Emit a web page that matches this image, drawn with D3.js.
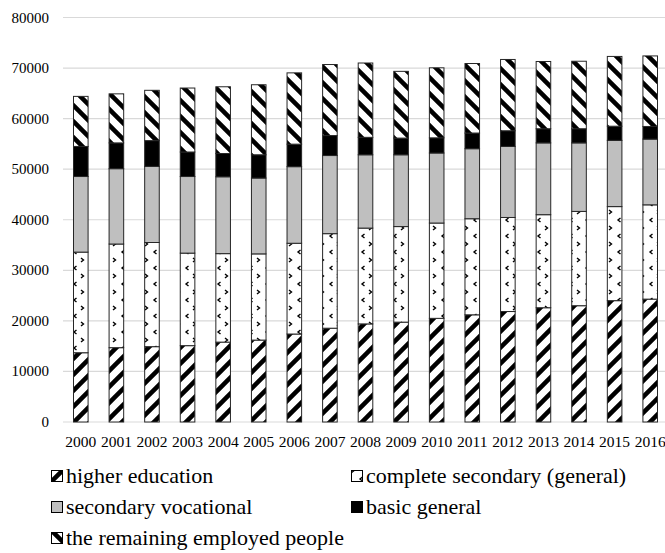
<!DOCTYPE html>
<html lang="en">
<head>
	<meta charset="UTF-8"/>
	<title>Employed population by education</title>
	<script src="https://d3js.org/d3.v7.min.js"></script>
	<style>
		body { margin: 0; background: #fff; }
		text { font-family: "Liberation Serif", "Times New Roman", serif; fill: #000; }
	</style>
</head>
<body>
<script>

	var w = 665;
	var h = 553;
	var serif = "'Liberation Serif', 'Times New Roman', serif";

	// data (thousand people)
	var years = ["2000","2001","2002","2003","2004","2005","2006","2007","2008",
	             "2009","2010","2011","2012","2013","2014","2015","2016"];
	var higherEducation   = [13700,14700,14900,15100,15800,16200,17400,18550,19400,19750,20500,21200,21850,22600,23000,24000,24300];
	var completeSecondary = [19900,20500,20600,18300,17500,17050,17950,18700,18950,18900,18850,19000,18600,18400,18650,18600,18650];
	var secondaryVocational = [14950,14900,15050,15150,15200,15000,15150,15450,14500,14200,13850,13850,14050,14200,13550,13100,13000];
	var basicGeneral      = [5950,5100,5100,4850,4600,4600,4450,3950,3450,3300,3000,3100,3100,2800,2800,2800,2500];
	var remaining         = [9900,9700,9950,12650,13200,13850,14100,14050,14700,13200,13850,13750,14100,13300,13350,13800,13950];
	var yTicks = [0,10000,20000,30000,40000,50000,60000,70000,80000];

	var seriesNames = ["higher education", "complete secondary (general)", "secondary vocational",
	                   "basic general", "the remaining employed people"];
	var seriesValues = [higherEducation, completeSecondary, secondaryVocational, basicGeneral, remaining];
	var fills = ["url(#upDiag)", "url(#dots)", "#bfbfbf", "#000", "url(#downDiag)"];

	// rows for d3.stack
	var table = years.map(function(y, i){
		var row = {year: y};
		seriesNames.forEach(function(n, k){ row[n] = seriesValues[k][i]; });
		return row;
	});
	var stacked = d3.stack().keys(seriesNames)(table);

	var xScale = d3.scaleBand()
					.domain(years)
					.range([63, 668])
					.paddingInner(0.59)
					.paddingOuter(0.295);

	var yScale = d3.scaleLinear()
					.domain([0, 80000])
					.range([422, 17.5]);

	var svg = d3.select("body")
		.append("svg")
		.attr("width", w)
		.attr("height", h);

	// fill patterns
	var defs = svg.append("defs");

	var up = defs.append("pattern")
		.attr("id", "upDiag")
		.attr("patternUnits", "userSpaceOnUse")
		.attr("width", 16).attr("height", 16);
	up.append("rect").attr("width", 16).attr("height", 16).attr("fill", "#fff");
	up.append("path")
		.attr("d", "M-4,4 L4,-4 M-4,20 L20,-4 M12,20 L20,12")
		.attr("stroke", "#000").attr("stroke-width", 4.5);

	var down = defs.append("pattern")
		.attr("id", "downDiag")
		.attr("patternUnits", "userSpaceOnUse")
		.attr("width", 16).attr("height", 16);
	down.append("rect").attr("width", 16).attr("height", 16).attr("fill", "#fff");
	down.append("path")
		.attr("d", "M-4,12 L4,20 M-4,-4 L20,20 M12,-4 L20,4")
		.attr("stroke", "#000").attr("stroke-width", 4.5);

	var dots = defs.append("pattern")
		.attr("id", "dots")
		.attr("patternUnits", "userSpaceOnUse")
		.attr("width", 16).attr("height", 16);
	dots.append("rect").attr("width", 16).attr("height", 16).attr("fill", "#fff");
	dots.append("path")
		.attr("d", "M1,2 L3.5,4 L1,6")
		.attr("fill", "none").attr("stroke", "#000").attr("stroke-width", 1.4);
	dots.append("path")
		.attr("d", "M12.5,10 L10,12 L12.5,14")
		.attr("fill", "none").attr("stroke", "#000").attr("stroke-width", 1.4);

	// gridlines
	svg.append("g")
		.selectAll("line")
		.data(yTicks)
		.enter()
		.append("line")
		.attr("x1", 63)
		.attr("x2", w)
		.attr("y1", function(d){ return yScale(d); })
		.attr("y2", function(d){ return yScale(d); })
		.attr("stroke", "#d9d9d9")
		.attr("stroke-width", 1.2);

	// y labels
	svg.append("g")
		.selectAll("text")
		.data(yTicks)
		.enter()
		.append("text")
		.attr("x", 49)
		.attr("y", function(d){ return yScale(d) + 5; })
		.attr("font-family", serif)
		.attr("font-size", 15)
		.style("text-anchor", "end")
		.text(function(d){ return d; });

	// stacked bars
	svg.append("g")
		.selectAll("g")
		.data(stacked)
		.enter()
		.append("g")
		.attr("fill", function(d, i){ return fills[i]; })
		.selectAll("rect")
		.data(function(d){ return d; })
		.enter()
		.append("rect")
		.attr("x", function(d){ return xScale(d.data.year); })
		.attr("y", function(d){ return yScale(d[1]); })
		.attr("width", xScale.bandwidth())
		.attr("height", function(d){ return yScale(d[0]) - yScale(d[1]); })
		.attr("stroke", "#262626")
		.attr("stroke-width", 1);

	// x labels
	svg.append("g")
		.selectAll("text")
		.data(years)
		.enter()
		.append("text")
		.attr("x", function(d){ return xScale(d) + xScale.bandwidth() / 2; })
		.attr("y", 446.5)
		.attr("font-family", serif)
		.attr("font-size", 15.5)
		.style("text-anchor", "middle")
		.text(function(d){ return d; });

	// legend, two columns
	var legendPos = [[50, 483], [350, 483], [50, 514], [350, 514], [50, 545]];
	var legend = svg.append("g")
		.selectAll("g")
		.data(seriesNames)
		.enter()
		.append("g")
		.attr("transform", function(d, i){
			return "translate(" + legendPos[i][0] + "," + legendPos[i][1] + ")";
		});

	legend.append("rect")
		.attr("x", 1.5)
		.attr("y", -12.5)
		.attr("width", 11)
		.attr("height", 11)
		.attr("fill", function(d, i){ return fills[i]; })
		.attr("stroke", "#000")
		.attr("stroke-width", 1);

	legend.append("text")
		.attr("x", 16)
		.attr("y", 0)
		.attr("font-family", serif)
		.attr("font-size", 22)
		.text(function(d){ return d; });

</script>
</body>
</html>
